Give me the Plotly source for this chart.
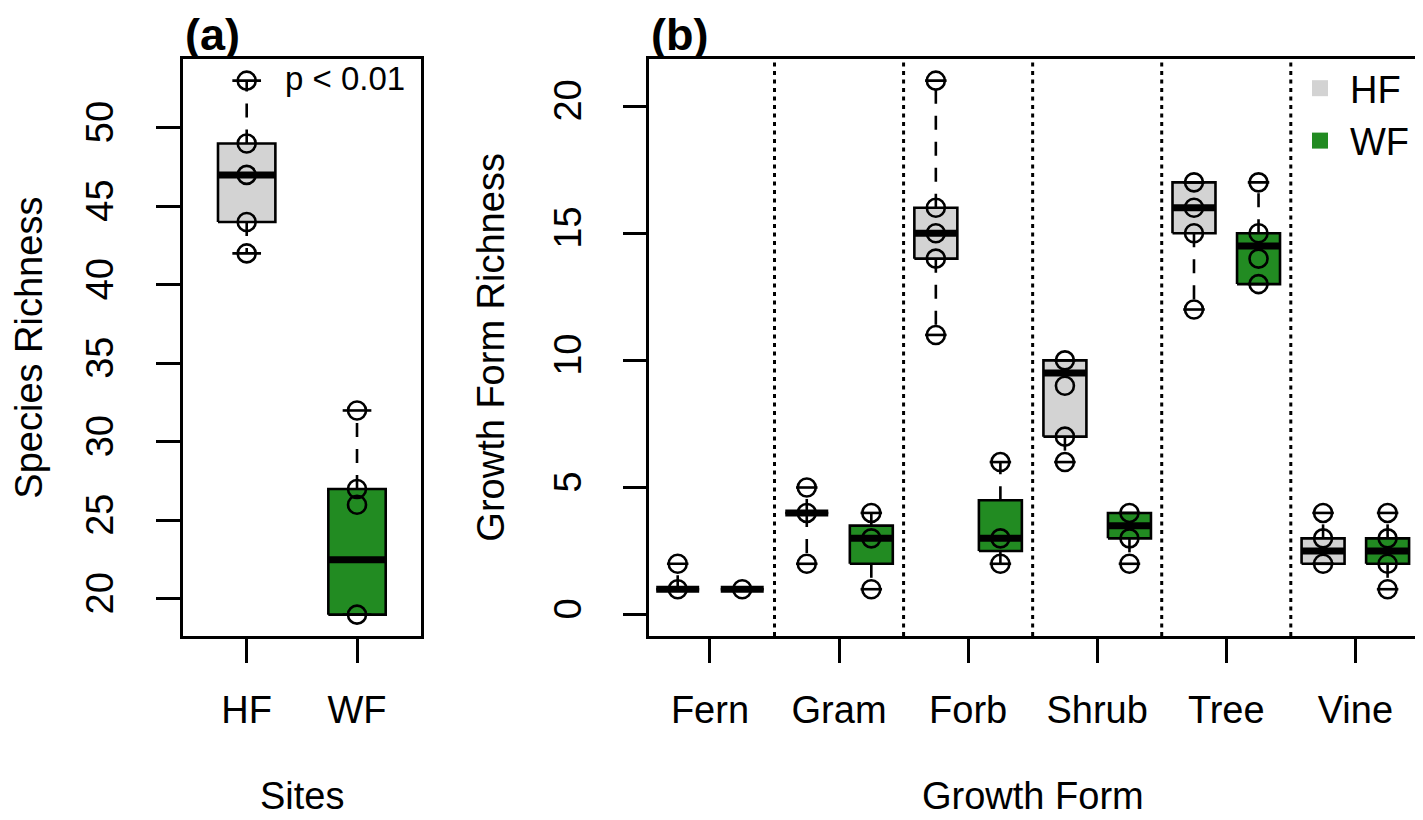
import plotly.graph_objects as go

# ---------------- data ----------------
sites = ["HF", "WF"]
a_points = [[42, 44, 47, 49, 53], [19, 26, 27, 32]]
a_q1 = [44, 19]
a_med = [47, 22.5]
a_q3 = [49, 27]
a_lo = [42, 19]
a_hi = [53, 32]

forms = ["Fern", "Gram", "Forb", "Shrub", "Tree", "Vine"]
hf_points = [[1, 2], [2, 4, 5], [11, 14, 15, 16, 21], [6, 7, 9, 10], [12, 15, 16, 17], [2, 3, 4]]
hf_q1 = [1, 4, 14, 7, 15, 2]
hf_med = [1, 4, 15, 9.5, 16, 2.5]
hf_q3 = [1, 4, 16, 10, 17, 3]
hf_lo = [1, 2, 11, 6, 12, 2]
hf_hi = [2, 5, 21, 10, 17, 4]

wf_points = [[1], [1, 3, 4], [2, 3, 6], [2, 3, 4], [13, 14, 15, 17], [1, 2, 3, 4]]
wf_q1 = [1, 2, 2.5, 3, 13, 2]
wf_med = [1, 3, 3, 3.5, 14.5, 2.5]
wf_q3 = [1, 3.5, 4.5, 4, 15, 3]
wf_lo = [1, 1, 2, 2, 13, 1]
wf_hi = [1, 4, 6, 4, 17, 4]

a_yticks = [20, 25, 30, 35, 40, 45, 50]
b_yticks = [0, 5, 10, 15, 20]

HF_COL = "#D3D3D3"
WF_COL = "#228B22"
FONT = "Liberation Sans, Arial, Helvetica, sans-serif"
LW = 2.6

# page has an 8px body margin: figure is placed at (8, 8)
OFF = 8
W, H = 1415, 812


def px(xr):
    return (xr - OFF) / W


def py(yr):
    return 1 - (yr - OFF) / H


fig = go.Figure()


def add_box(pos, q1, med, q3, lo, hi, pts, color, half, xa, ya):
    fig.add_trace(go.Scatter(
        x=[pos - half, pos + half, pos + half, pos - half, pos - half],
        y=[q1, q1, q3, q3, q1], mode="lines", fill="toself", fillcolor=color,
        line=dict(color="black", width=LW), xaxis=xa, yaxis=ya,
        showlegend=False, hoverinfo="skip"))
    fig.add_trace(go.Scatter(
        x=[pos, pos, None, pos, pos], y=[q3, hi, None, q1, lo], mode="lines",
        line=dict(color="black", width=LW, dash="14px,12px"), xaxis=xa, yaxis=ya,
        showlegend=False, hoverinfo="skip", connectgaps=False))
    sh = half / 2
    fig.add_trace(go.Scatter(
        x=[pos - sh, pos + sh, None, pos - sh, pos + sh], y=[hi, hi, None, lo, lo],
        mode="lines", line=dict(color="black", width=LW), xaxis=xa, yaxis=ya,
        showlegend=False, hoverinfo="skip"))
    fig.add_trace(go.Scatter(
        x=[pos - half, pos + half], y=[med, med], mode="lines",
        line=dict(color="black", width=7), xaxis=xa, yaxis=ya,
        showlegend=False, hoverinfo="skip"))
    fig.add_trace(go.Scatter(
        x=[pos] * len(pts), y=pts, mode="markers",
        marker=dict(symbol="circle-open", size=18, color="black", line=dict(width=LW)),
        xaxis=xa, yaxis=ya, showlegend=False, hoverinfo="skip"))


# panel (a)
a_cols = [HF_COL, WF_COL]
for i in range(len(sites)):
    add_box(i + 1, a_q1[i], a_med[i], a_q3[i], a_lo[i], a_hi[i], a_points[i],
            a_cols[i], 0.26, "x", "y")

# panel (b)
for i in range(len(forms)):
    add_box(2 * i + 1, hf_q1[i], hf_med[i], hf_q3[i], hf_lo[i], hf_hi[i], hf_points[i],
            HF_COL, 0.333, "x2", "y2")
    add_box(2 * i + 2, wf_q1[i], wf_med[i], wf_q3[i], wf_lo[i], wf_hi[i], wf_points[i],
            WF_COL, 0.333, "x2", "y2")

for i in range(len(forms) - 1):
    fig.add_shape(type="line", xref="x2", yref="y2 domain", x0=2 * i + 2.5, x1=2 * i + 2.5,
                  y0=0, y1=1, line=dict(color="black", width=3, dash="4px,4.5px"))

fig.add_trace(go.Scatter(x=[None], y=[None], mode="markers", name="HF",
                         marker=dict(symbol="square", size=16, color=HF_COL),
                         xaxis="x2", yaxis="y2"))
fig.add_trace(go.Scatter(x=[None], y=[None], mode="markers", name="WF",
                         marker=dict(symbol="square", size=16, color=WF_COL),
                         xaxis="x2", yaxis="y2"))

# geometry (reference pixel coordinates)
ax_l, ax_r = 182.7, 421.0
bx_l, bx_r = 649.3, 1416.0
top, bot = 59.3, 636.0
ydom = [py(bot), py(top)]

FS = 38
axis_common = dict(showline=True, mirror=True, linecolor="black", linewidth=LW,
                   ticks="outside", ticklen=24, tickwidth=LW, tickcolor="black",
                   showgrid=False, zeroline=False,
                   tickfont=dict(family=FONT, size=FS, color="black"))

fig.update_layout(
    width=W, height=H, margin=dict(l=0, r=0, t=0, b=0),
    paper_bgcolor="white", plot_bgcolor="white",
    xaxis=dict(domain=[px(ax_l), px(ax_r)], range=[0.42, 2.58],
               tickvals=[1, 2], ticktext=sites, ticklabelstandoff=15, anchor="y",
               **axis_common),
    yaxis=dict(domain=ydom, range=[17.64, 54.36], tickvals=a_yticks, tickangle=-90,
               ticklabelstandoff=28, anchor="x", **axis_common),
    xaxis2=dict(domain=[px(bx_l), px(bx_r)], range=[0.56, 12.44],
                tickvals=[2 * i + 1.5 for i in range(len(forms))], ticktext=forms,
                ticklabelstandoff=15, anchor="y2", **axis_common),
    yaxis2=dict(domain=ydom, range=[-0.84, 21.84], tickvals=b_yticks, tickangle=-90,
                ticklabelstandoff=26, anchor="x2", **axis_common),
    showlegend=True,
    legend=dict(x=px(1290), y=py(57), xanchor="left", yanchor="top",
                bgcolor="rgba(0,0,0,0)", borderwidth=0, itemwidth=50,
                font=dict(family=FONT, size=FS, color="black"), tracegroupgap=0),
)

ann_font = dict(family=FONT, size=FS, color="black")
fig.add_annotation(text="<b>(a)</b>", xref="paper", yref="paper", x=px(ax_l), y=py(34),
                   xanchor="left", yanchor="middle", showarrow=False,
                   font=dict(family=FONT, size=45, color="black"))
fig.add_annotation(text="<b>(b)</b>", xref="paper", yref="paper", x=px(bx_l), y=py(34),
                   xanchor="left", yanchor="middle", showarrow=False,
                   font=dict(family=FONT, size=45, color="black"))
fig.add_annotation(text="p < 0.01", xref="paper", yref="paper", x=px(407), y=py(78),
                   xanchor="right", yanchor="middle", showarrow=False,
                   font=dict(family=FONT, size=33, color="black"))
fig.add_annotation(text="Sites", xref="paper", yref="paper", x=px((ax_l + ax_r) / 2),
                   y=py(796), xanchor="center", yanchor="middle", showarrow=False,
                   font=ann_font)
fig.add_annotation(text="Growth Form", xref="paper", yref="paper", x=px((bx_l + bx_r) / 2),
                   y=py(796), xanchor="center", yanchor="middle", showarrow=False,
                   font=ann_font)
fig.add_annotation(text="Species Richness", xref="paper", yref="paper", x=px(29),
                   y=py((top + bot) / 2), xanchor="center", yanchor="middle",
                   textangle=-90, showarrow=False, font=ann_font)
fig.add_annotation(text="Growth Form Richness", xref="paper", yref="paper", x=px(491),
                   y=py((top + bot) / 2), xanchor="center", yanchor="middle",
                   textangle=-90, showarrow=False, font=ann_font)

fig.write_html("out.html")
